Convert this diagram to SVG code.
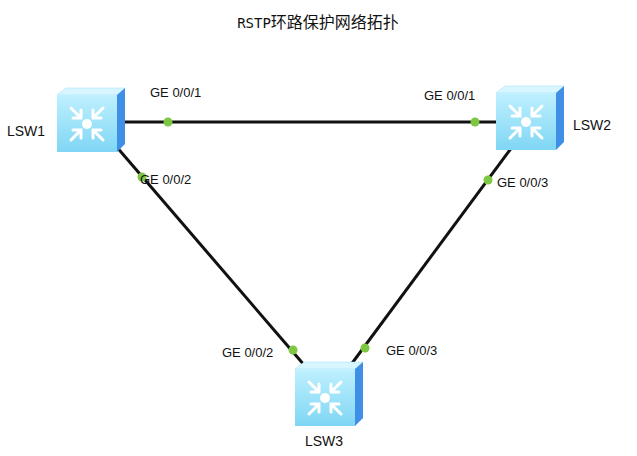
<svg xmlns="http://www.w3.org/2000/svg" xmlns:xlink="http://www.w3.org/1999/xlink" width="637" height="456" viewBox="0 0 637 456">
<style>
text{font-family:"Liberation Sans",Arial,sans-serif;font-size:14px;fill:#111}
.lbl{font-size:13px}
.ln{stroke:#111;stroke-width:3;fill:none}
.dot{fill:#7dc843}
</style>
<defs>
<linearGradient id="fg" x1="0" y1="0" x2="0" y2="1"><stop offset="0" stop-color="#bff0ff"/><stop offset="1" stop-color="#7fd6f4"/></linearGradient>
<g id="sw">
<polygon points="0,7 9,0 68,0 60,7" fill="#d8f6ff" stroke="#9fdcf0" stroke-width="0.5"/>
<polygon points="60,7 68,0 68,56 60,64" fill="#3f8fe6"/>
<rect x="0" y="7" width="60" height="57" fill="url(#fg)"/>
<g stroke="#fff" stroke-width="3" fill="none" stroke-linecap="round">
<path d="M14,20 L24,30 M24,22 L24,30 L16,30"/>
<path d="M46,20 L36,30 M36,22 L36,30 L44,30"/>
<path d="M14,52 L24,42 M24,50 L24,42 L16,42"/>
<path d="M46,52 L36,42 M36,50 L36,42 L44,42"/>
</g>
<circle cx="30" cy="36" r="5" fill="#fff"/>
</g>
</defs>
<text x="318" y="28" text-anchor="middle" style="font-family:'DejaVu Sans Mono','Noto Sans CJK SC',monospace;font-size:14px">RSTP<tspan style="font-family:'Noto Sans CJK SC',sans-serif;font-size:16px">环路保护网络拓扑</tspan></text>
<g id="connectors">
<line class="ln" x1="125" y1="122" x2="496" y2="122"/>
<line class="ln" x1="115" y1="145" x2="305" y2="366"/>
<line class="ln" x1="515" y1="143" x2="350" y2="366"/>
<circle class="dot" cx="168" cy="122" r="4.5"/>
<circle class="dot" cx="475" cy="122" r="4.5"/>
<circle class="dot" cx="142" cy="177" r="4.5"/>
<circle class="dot" cx="293" cy="350" r="4.5"/>
<circle class="dot" cx="488" cy="180" r="4.5"/>
<circle class="dot" cx="365" cy="348" r="4.5"/>
<text class="lbl" x="150" y="97">GE 0/0/1</text>
<text class="lbl" x="424" y="100">GE 0/0/1</text>
<text class="lbl" x="140" y="184">GE 0/0/2</text>
<text class="lbl" x="497" y="187">GE 0/0/3</text>
<text class="lbl" x="222" y="357">GE 0/0/2</text>
<text class="lbl" x="386" y="355">GE 0/0/3</text>
</g>
<g id="LSW1"><use xlink:href="#sw" x="57" y="88"/><text x="7" y="136">LSW1</text></g>
<g id="LSW2"><use xlink:href="#sw" x="496" y="86"/><text x="573" y="130">LSW2</text></g>
<g id="LSW3"><use xlink:href="#sw" x="295" y="362"/><text x="305" y="446">LSW3</text></g>
</svg>
